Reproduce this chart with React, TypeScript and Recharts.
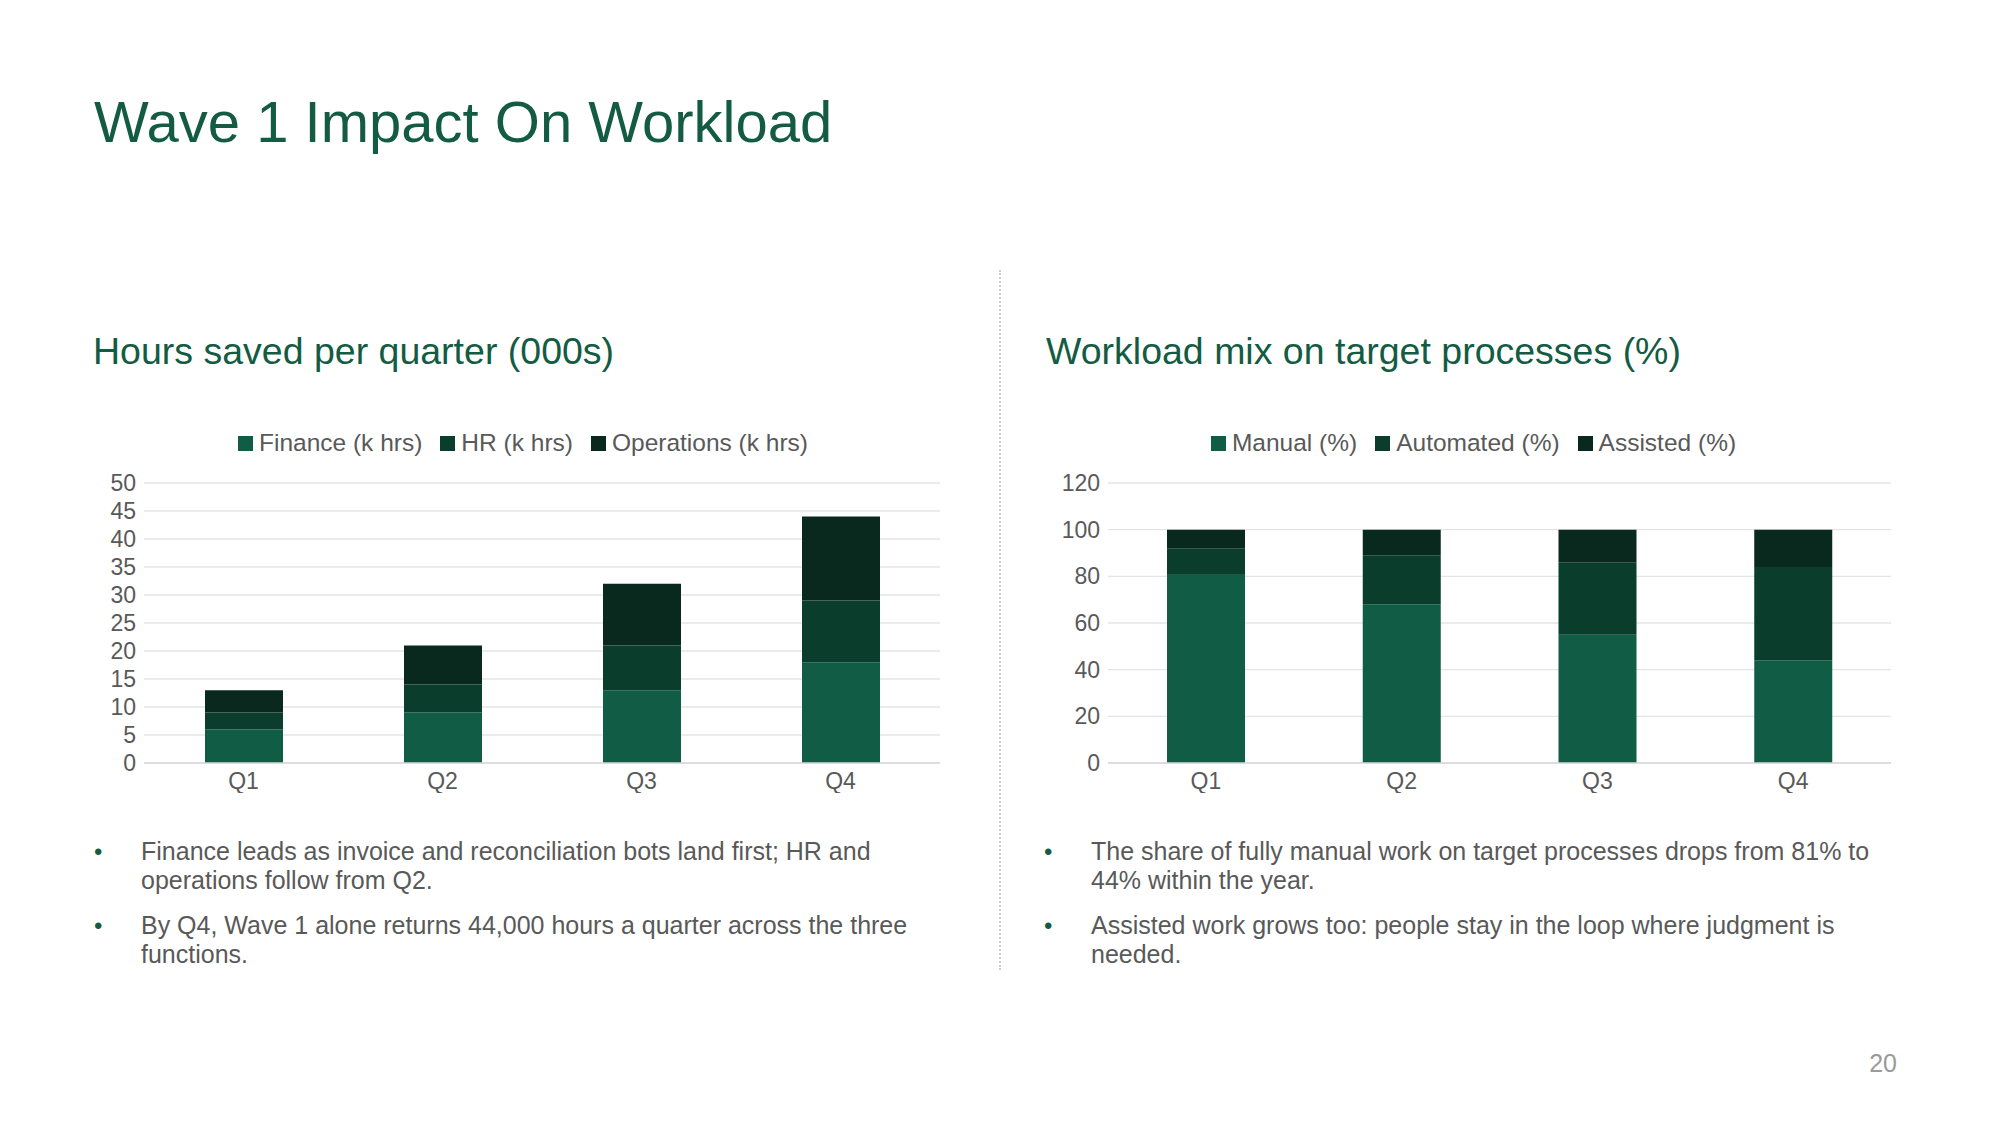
import { Bar, BarChart, CartesianGrid, Legend, XAxis, YAxis } from "recharts";

const quarters = ["Q1", "Q2", "Q3", "Q4"];

const financeHours = [6, 9, 13, 18];
const hrHours = [3, 5, 8, 11];
const opsHours = [4, 7, 11, 15];
const hoursTicks = [0, 5, 10, 15, 20, 25, 30, 35, 40, 45, 50];

const manualPct = [81, 68, 55, 44];
const automatedPct = [11, 21, 31, 40];
const assistedPct = [8, 11, 14, 16];
const mixTicks = [0, 20, 40, 60, 80, 100, 120];

const colors = ["#115C44", "#0B3D2C", "#09291F"];
const font = '"Liberation Sans", Arial, sans-serif';
const gray = "#595959";
const green = "#135C43";

const hoursSeries = [
  { key: "finance", name: "Finance (k hrs)" },
  { key: "hr", name: "HR (k hrs)" },
  { key: "ops", name: "Operations (k hrs)" }
];
const mixSeries = [
  { key: "manual", name: "Manual (%)" },
  { key: "automated", name: "Automated (%)" },
  { key: "assisted", name: "Assisted (%)" }
];

const hoursData = quarters.map((q, i) => ({
  q,
  finance: financeHours[i],
  hr: hrHours[i],
  ops: opsHours[i]
}));

const mixData = quarters.map((q, i) => ({
  q,
  manual: manualPct[i],
  automated: automatedPct[i],
  assisted: assistedPct[i]
}));

// legend keeps the series order (recharts 3 sorts by name otherwise)
function LegendRow({ series }: { series: Array<{ key: string; name: string }> }) {
  return (
    <div style={{ height: 58, margin: 0, display: "flex", justifyContent: "center", alignItems: "flex-start" }}>
      <div style={{ height: 36, display: "flex", alignItems: "center", gap: 18 }}>
        {series.map((s, i) => (
          <div key={s.key} style={{ display: "flex", alignItems: "center" }}>
            <span style={{ width: 15, height: 15, background: colors[i], marginRight: 6, display: "inline-block" }} />
            <span style={{ fontSize: 24.5, color: gray, fontFamily: font, whiteSpace: "nowrap" }}>{s.name}</span>
          </div>
        ))}
      </div>
    </div>
  );
}

function StackedChart({
  data,
  series,
  ticks,
  yWidth,
  width
}: {
  data: any[];
  series: Array<{ key: string; name: string }>;
  ticks: number[];
  yWidth: number;
  width: number;
}) {
  const tick = { fill: gray, fontSize: 23, fontFamily: font };
  return (
    <BarChart width={width} height={368} data={data} margin={{ top: 0, right: 0, bottom: 0, left: 0 }}>
      <CartesianGrid vertical={false} stroke="#E4E4E4" strokeWidth={1.3} />
      <XAxis dataKey="q" tick={tick} tickLine={false} axisLine={{ stroke: "#D9D9D9", strokeWidth: 1.3 }} tickMargin={4} height={30} />
      <YAxis
        width={yWidth}
        domain={[0, ticks[ticks.length - 1]]}
        ticks={ticks}
        interval={0}
        tick={tick}
        tickLine={false}
        axisLine={false}
      />
      <Legend verticalAlign="top" content={<LegendRow series={series} />} />
      {series.map((s, i) => (
        <Bar key={s.key} dataKey={s.key} name={s.name} stackId="a" fill={colors[i]} barSize={78} isAnimationActive={false} />
      ))}
    </BarChart>
  );
}

function Bullets({ items, left }: { items: string[]; left: number }) {
  return (
    <div style={{ position: "absolute", left, top: 837, width: 850, fontFamily: font }}>
      {items.map((t) => (
        <div key={t} style={{ position: "relative", paddingLeft: 44, marginBottom: 16, fontSize: 25, lineHeight: "29px", color: gray, width: 800 }}>
          <span style={{ position: "absolute", left: -3, top: 0, color: green, fontSize: 24 }}>•</span>
          {t}
        </div>
      ))}
    </div>
  );
}

export default function App() {
  return (
    <div style={{ position: "absolute", left: 0, top: 0, width: 2001, height: 1125, background: "#FFFFFF", fontFamily: font, overflow: "hidden" }}>
      <div style={{ position: "absolute", left: 94, top: 93, fontSize: 58, lineHeight: "58px", color: green, whiteSpace: "nowrap" }}>
        Wave 1 Impact On Workload
      </div>

      <div style={{ position: "absolute", left: 93, top: 332, fontSize: 37.5, lineHeight: "38px", color: green, whiteSpace: "nowrap" }}>
        Hours saved per quarter (000s)
      </div>
      <div style={{ position: "absolute", left: 1046, top: 332, fontSize: 37.5, lineHeight: "38px", color: green, whiteSpace: "nowrap" }}>
        Workload mix on target processes (%)
      </div>

      <div style={{ position: "absolute", left: 999, top: 270, height: 700, borderLeft: "2px dotted #C9C9C9" }} />

      <div style={{ position: "absolute", left: 106, top: 425 }}>
        <StackedChart data={hoursData} series={hoursSeries} ticks={hoursTicks} yWidth={38} width={834} />
      </div>

      <div style={{ position: "absolute", left: 1056, top: 425 }}>
        <StackedChart data={mixData} series={mixSeries} ticks={mixTicks} yWidth={52} width={835} />
      </div>

      <Bullets
        left={97}
        items={[
          "Finance leads as invoice and reconciliation bots land first; HR and operations follow from Q2.",
          "By Q4, Wave 1 alone returns 44,000 hours a quarter across the three functions."
        ]}
      />
      <Bullets
        left={1047}
        items={[
          "The share of fully manual work on target processes drops from 81% to 44% within the year.",
          "Assisted work grows too: people stay in the loop where judgment is needed."
        ]}
      />

      <div style={{ position: "absolute", left: 1797, top: 1049, width: 100, textAlign: "right", fontSize: 25, lineHeight: "29px", color: "#9A9A9A" }}>
        20
      </div>
    </div>
  );
}
